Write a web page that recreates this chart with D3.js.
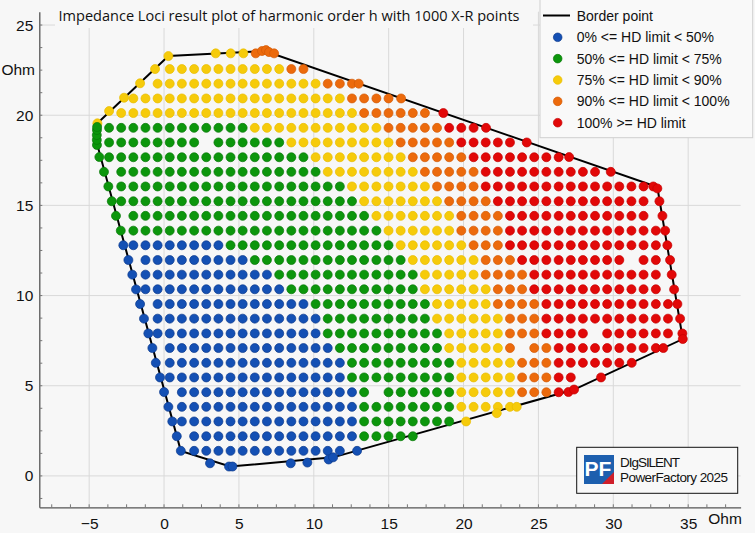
<!DOCTYPE html>
<html>
<head>
<meta charset="utf-8">
<title>Impedance Loci</title>
<script src="https://d3js.org/d3.v7.min.js"></script>
<style>
  body { margin: 0; background: #f7f7f7; }
  text { font-family: "Liberation Sans", Arial, sans-serif; fill: #111; }
</style>
</head>
<body>
<script>
// X (Ohm) of the scan columns, R (Ohm) of the scan rows, top row first
var colX = [-3.67, -2.86, -2.05, -1.24, -0.43, 0.38, 1.19, 2.01, 2.82, 3.63, 4.44, 5.25,
  6.06, 6.87, 7.69, 8.50, 9.31, 10.12, 10.93, 11.74, 12.55, 13.36, 14.18, 14.99,
  15.80, 16.61, 17.42, 18.23, 19.04, 19.85, 20.67, 21.48, 22.29, 23.10, 23.91, 24.72,
  25.53, 26.35, 27.16, 27.97, 28.78, 29.59, 30.40, 31.21, 32.02, 32.84, 33.65, 34.46];
var rowY = [22.56, 21.75, 20.93, 20.12, 19.30, 18.49, 17.67, 16.86, 16.05, 15.23, 14.42,
  13.60, 12.79, 11.97, 11.16, 10.35, 9.53, 8.72, 7.90, 7.09, 6.27, 5.46, 4.64, 3.83,
  3.02, 2.20, 1.39];

// result class of each grid point, run length per row ("5." = 5 empty columns)
// B 0-50%, G 50-75%, Y 75-90%, O 90-100%, R >=100%
var rowRuns = [
  "5. 10Y 2O",
  "4. 14Y 3O",
  "2. 18Y 4O",
  "1. 20Y 6O",
  "12G 11Y 5O 3R",
  "8G 1. 6G 9Y 5O 5R",
  "17G 8Y 5O 8R",
  "1. 17G 8Y 5O 10R",
  "1. 19G 7Y 4O 14R",
  "1. 20G 7Y 4O 13R",
  "2. 20G 7Y 4O 12R",
  "2. 21G 6Y 4O 13R",
  "2. 8B 14G 6Y 3O 13R",
  "3. 9B 13G 6Y 3O 9R 1. 2R",
  "3. 11B 12G 5Y 4O 11R",
  "3. 12B 11G 6Y 3O 11R",
  "4. 13B 10G 5Y 4O 11R",
  "4. 14B 9G 6Y 3O 11R",
  "4. 14B 10G 5Y 3O 4R 1. 6R",
  "5. 14B 9G 5Y 1O 1. 2O 9R",
  "5. 15B 9G 5Y 3O 6R",
  "5. 15B 9G 5Y 3O 2R",
  "6. 15B 1G 1. 6G 5Y 3O 1R",
  "6. 15B 8G 5Y",
  "6. 15B 8G",
  "7. 14B 5G",
  "7. 13B"
];

// border polygon (X, R)
var borderLine = [[-4.45, 19.55], [0.29, 23.28], [6.74, 23.56], [32.94, 16.02], [34.64, 7.59],
  [27.38, 4.79], [11.29, 1.03], [4.41, 0.52], [1.12, 1.39], [-4.49, 18.46]];

// points that sit on the border
var borderPts = [
  [-4.45, 19.55, "Y"], [-3.67, 20.23, "Y"], [-2.67, 20.97, "Y"], [-1.60, 21.77, "Y"],
  [-0.60, 22.56, "Y"], [0.29, 23.28, "Y"], [3.45, 23.43, "Y"], [4.45, 23.43, "Y"],
  [5.30, 23.43, "Y"],
  [6.12, 23.43, "O"], [6.54, 23.56, "O"], [6.81, 23.61, "O"], [7.01, 23.50, "O"],
  [7.35, 23.43, "O"], [13.00, 21.75, "O"], [15.83, 20.93, "O"],
  [18.65, 20.12, "R"], [21.50, 19.30, "R"], [24.22, 18.49, "R"], [27.05, 17.68, "R"],
  [29.83, 16.86, "R"], [32.67, 16.05, "R"], [32.94, 15.94, "R"], [33.08, 15.23, "R"],
  [33.28, 14.42, "R"], [33.46, 13.60, "R"], [33.61, 12.79, "R"], [33.79, 11.97, "R"],
  [33.90, 11.16, "R"], [34.06, 10.34, "R"], [34.28, 9.53, "R"], [34.46, 8.72, "R"],
  [34.61, 7.90, "R"], [34.64, 7.59, "R"], [33.34, 7.09, "R"], [31.23, 6.27, "R"],
  [29.18, 5.46, "R"], [27.00, 4.65, "R"], [27.38, 4.79, "R"],
  [23.55, 3.83, "Y"], [22.22, 3.48, "Y"], [20.17, 3.02, "Y"],
  [12.89, 1.39, "B"], [10.99, 0.91, "B"], [11.29, 1.03, "B"], [9.57, 0.74, "B"],
  [8.46, 0.70, "B"], [4.34, 0.52, "B"], [4.57, 0.52, "B"], [3.07, 0.70, "B"],
  [1.12, 1.39, "B"], [0.85, 2.20, "B"], [0.55, 3.02, "B"], [0.29, 3.83, "B"],
  [0.00, 4.65, "B"], [-0.27, 5.46, "B"], [-0.55, 6.27, "B"], [-0.78, 7.09, "B"],
  [-1.05, 7.90, "B"], [-1.34, 8.72, "B"], [-1.60, 9.53, "B"], [-1.87, 10.34, "B"],
  [-2.12, 11.16, "B"], [-2.38, 11.97, "B"], [-2.72, 12.79, "B"],
  [-2.89, 13.60, "G"], [-3.21, 14.42, "G"], [-3.49, 15.23, "G"], [-3.72, 16.05, "G"],
  [-4.01, 16.86, "G"], [-4.32, 17.68, "G"], [-4.48, 18.35, "G"], [-4.49, 18.63, "G"],
  [-4.49, 18.90, "G"], [-4.48, 19.18, "G"], [-4.47, 19.35, "G"]
];

var xTicks = [-5, 0, 5, 10, 15, 20, 25, 30, 35];
var yTicks = [0, 5, 10, 15, 20, 25];
var classKeys = ["B", "G", "Y", "O", "R"];
var legendLabels = ["0% <= HD limit < 50%", "50% <= HD limit < 75%", "75% <= HD limit < 90%",
  "90% <= HD limit < 100%", "100% >= HD limit"];
var titleText = "Impedance Loci result plot of harmonic order h with 1000 X-R points";

var fillOf = { B: "#1450b4", G: "#0c960c", Y: "#f6cb0a", O: "#ec6a0c", R: "#e20808" };
var strokeOf = { B: "#0b3a8c", G: "#087808", Y: "#e8bb00", O: "#d45a06", R: "#c40000" };

var width = 755, height = 533;
var x = d3.scaleLinear().domain([-8.33, 38.5]).range([39.3, 740.6]);
var y = d3.scaleLinear().domain([-1.74, 25.74]).range([507.3, 11.7]);

var svg = d3.select("body").append("svg").attr("width", width).attr("height", height)
  .style("display", "block");
svg.append("rect").attr("width", width).attr("height", height).attr("fill", "#f7f7f7");

// grid
var grid = svg.append("g").attr("stroke", "#d9d9d9").attr("stroke-width", 1);
grid.selectAll(".vx").data(xTicks).enter().append("line")
  .attr("x1", d => x(d)).attr("x2", d => x(d)).attr("y1", y.range()[1]).attr("y2", y.range()[0]);
grid.selectAll(".hy").data(yTicks).enter().append("line")
  .attr("x1", x.range()[0]).attr("x2", x.range()[1]).attr("y1", d => y(d)).attr("y2", d => y(d));

// title box hides the grid behind it
svg.append("rect").attr("x", 55).attr("y", 0).attr("width", 478).attr("height", 28).attr("fill", "#f7f7f7");
svg.append("text").attr("x", 58.5).attr("y", 21).attr("textLength", 461).attr("lengthAdjust", "spacingAndGlyphs")
  .style("font-family", "'Open Sans', sans-serif").style("font-size", "15px").text(titleText);

// axes
var xAxis = d3.axisBottom(x).tickValues(xTicks).tickSize(0).tickPadding(11);
var yAxis = d3.axisLeft(y).tickValues(yTicks).tickSize(0).tickPadding(6);
var xg = svg.append("g").attr("transform", "translate(0," + y.range()[0] + ")").call(xAxis);
var yg = svg.append("g").attr("transform", "translate(" + x.range()[0] + ",0)").call(yAxis);
[xg, yg].forEach(function (g) {
  g.select(".domain").attr("stroke", "#555").attr("stroke-width", 1.3);
  g.selectAll("text").style("font-size", "15.5px").style("font-family", "'Liberation Sans', Arial").attr("fill", "#111");
});

// minor ticks
var minorX = d3.range(-7.5, 38.5, 1.25), minorY = d3.range(-1.25, 25.75, 1.25);
svg.append("g").attr("stroke", "#777").selectAll("line").data(minorX).enter().append("line")
  .attr("x1", d => x(d)).attr("x2", d => x(d)).attr("y1", y.range()[0]).attr("y2", y.range()[0] - 3);
svg.append("g").attr("stroke", "#777").selectAll("line").data(minorY).enter().append("line")
  .attr("y1", d => y(d)).attr("y2", d => y(d)).attr("x1", x.range()[0]).attr("x2", x.range()[0] + 3);

svg.append("text").attr("x", 35).attr("y", 75).attr("text-anchor", "end").style("font-size", "15.5px").text("Ohm");
svg.append("text").attr("x", 725).attr("y", 523.5).attr("text-anchor", "middle").style("font-size", "15.5px").text("Ohm");

// grid points from run lengths
var points = [];
rowRuns.forEach(function (runs, r) {
  var c = 0;
  runs.split(" ").forEach(function (tok) {
    var n = parseInt(tok, 10), k = tok.slice(-1);
    for (var i = 0; i < n; i++, c++) {
      if (k !== ".") points.push({ x: colX[c], y: rowY[r], k: k });
    }
  });
});

svg.append("path").datum(borderLine)
  .attr("d", d3.line().x(d => x(d[0])).y(d => y(d[1])).curve(d3.curveLinearClosed))
  .attr("fill", "none").attr("stroke", "#000").attr("stroke-width", 2);

var rad = 4.5;
svg.append("g").selectAll("circle").data(points).enter().append("circle")
  .attr("cx", d => x(d.x)).attr("cy", d => y(d.y)).attr("r", rad)
  .attr("fill", d => fillOf[d.k]).attr("stroke", d => strokeOf[d.k]).attr("stroke-width", 0.7);
svg.append("g").selectAll("circle").data(borderPts).enter().append("circle")
  .attr("cx", d => x(d[0])).attr("cy", d => y(d[1])).attr("r", rad)
  .attr("fill", d => fillOf[d[2]]).attr("stroke", d => strokeOf[d[2]]).attr("stroke-width", 0.7);

// legend
var lg = svg.append("g");
lg.append("rect").attr("x", 540).attr("y", -1).attr("width", 212.7).attr("height", 138.7)
  .attr("fill", "#f9f9f9").attr("stroke", "#cfcfcf");
lg.append("line").attr("x1", 543).attr("x2", 570).attr("y1", 15.5).attr("y2", 15.5).attr("stroke", "#000").attr("stroke-width", 2);
lg.append("text").attr("x", 576.7).attr("y", 20.5).style("font-size", "14px").text("Border point");
var li = lg.selectAll(".li").data(classKeys).enter().append("g")
  .attr("transform", (d, i) => "translate(0," + (37.3 + i * 21.35) + ")");
li.append("circle").attr("cx", 557.7).attr("cy", 0).attr("r", 4.3)
  .attr("fill", d => fillOf[d]).attr("stroke", d => strokeOf[d]).attr("stroke-width", 0.7);
li.append("text").attr("x", 576.7).attr("y", 5).style("font-size", "14px").text((d, i) => legendLabels[i]);

// logo box
var logo = svg.append("g");
logo.append("rect").attr("x", 576.7).attr("y", 447.3).attr("width", 161).attr("height", 46)
  .attr("fill", "#f8f8f8").attr("stroke", "#111").attr("stroke-width", 1);
logo.append("rect").attr("x", 584).attr("y", 455).attr("width", 30).attr("height", 29).attr("fill", "#1d5fae");
logo.append("polygon").attr("points", "602,484 614,484 614,472").attr("fill", "#cf1f2a");
logo.append("text").attr("x", 598).attr("y", 476).attr("text-anchor", "middle")
  .style("font-size", "21px").style("font-weight", "bold").style("fill", "#fff").text("PF");
logo.append("text").attr("x", 620).attr("y", 466.5).style("font-size", "13.5px").attr("textLength", 60).text("DIgSILENT");
logo.append("text").attr("x", 620).attr("y", 482).style("font-size", "13.5px").attr("textLength", 108).text("PowerFactory 2025");
</script>
</body>
</html>
